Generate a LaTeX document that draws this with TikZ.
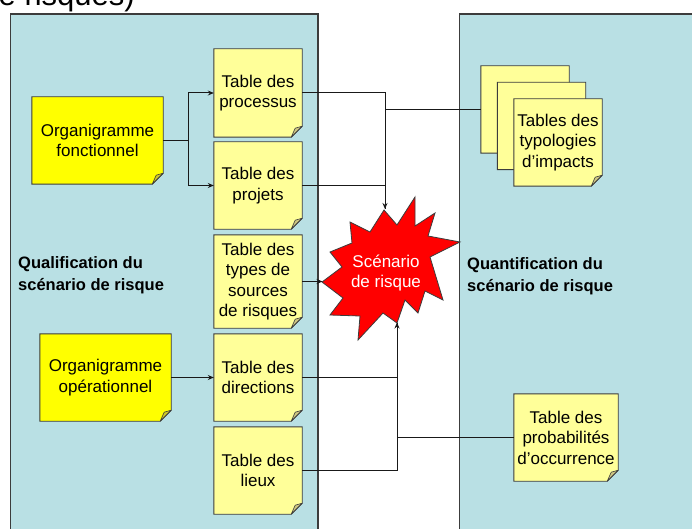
\documentclass[tikz,border=0pt]{standalone}
\usepackage{fontspec}
\setmainfont{Liberation Sans}
\usetikzlibrary{arrows.meta,calc}
\pgfdeclarelayer{panel}
\pgfdeclarelayer{notes}
\pgfsetlayers{panel,notes,main}
\definecolor{panelblue}{RGB}{185,224,228}
\definecolor{notelight}{RGB}{255,255,153}
\definecolor{noteyellow}{RGB}{255,255,0}
\definecolor{flaplight}{RGB}{206,198,130}
\definecolor{flapyellow}{RGB}{206,200,40}
\definecolor{edgegray}{RGB}{60,60,60}
\definecolor{starred}{RGB}{255,0,0}
\newcommand{\notebg}[3]{%
  \begin{pgfonlayer}{notes}
  \filldraw[fill=#2, draw=edgegray, line width=0.9pt, line join=miter]
    (#1.north west) -- (#1.north east) -- ([yshift=11pt]#1.south east)
    -- ([xshift=-11pt]#1.south east) -- (#1.south west) -- cycle;
  \filldraw[fill=#3, draw=edgegray, line width=0.6pt, line join=round]
    ([yshift=11pt]#1.south east) -- ([xshift=-11pt]#1.south east)
    -- ([xshift=-7pt,yshift=9pt]#1.south east) -- cycle;
  \end{pgfonlayer}}
\tikzset{
  notetext/.style={draw=none, inner sep=0pt, align=center, text=black,
    font=\fontsize{17}{20.5}\selectfont, minimum width=88pt, minimum height=87pt},
  boldlabel/.style={inner sep=0pt, align=left, anchor=north west,
    font=\fontsize{16.5}{22}\selectfont\bfseries},
  conn/.style={draw=black!90, line width=1pt},
  arr/.style={conn, -{Stealth[length=6pt,width=5pt]}}
}
\begin{document}
\begin{tikzpicture}[x=1pt,y=-1pt]
\useasboundingbox (0,0) rectangle (692,529);
% panels
\begin{pgfonlayer}{panel}
\begin{scope}
\clip (0,0) rectangle (692,529);
\fill[white] (0,0) rectangle (692,529);
\filldraw[fill=panelblue, draw=edgegray, line width=1.1pt] (10.5,14) rectangle (318,545);
\filldraw[fill=panelblue, draw=edgegray, line width=1.1pt] (459.5,14) rectangle (710,545);
\end{scope}
\end{pgfonlayer}
% cut title
\begin{scope}
\clip (0,0) rectangle (692,529);
\node[anchor=base east, inner sep=0pt, font=\fontsize{31}{36}\selectfont] (title) at (135,6) {de risques)};
\end{scope}
% left notes
\node[notetext, minimum width=131pt] (fonc) at (97.5,140.5) {Organigramme\\fonctionnel};
\notebg{fonc}{noteyellow}{flapyellow}
\node[notetext, minimum width=131pt] (oper) at (105.5,377.5) {Organigramme\\opérationnel};
\notebg{oper}{noteyellow}{flapyellow}
\node[notetext, minimum height=88pt] (proc) at (258,93) {Table des\\processus};
\notebg{proc}{notelight}{flaplight}
\node[notetext] (proj) at (258,185.5) {Table des\\projets};
\notebg{proj}{notelight}{flaplight}
\node[notetext, minimum height=93pt] (types) at (258,281.5) {Table des\\types de\\sources\\de risques};
\notebg{types}{notelight}{flaplight}
\node[notetext] (dir) at (258,377.5) {Table des\\directions};
\notebg{dir}{notelight}{flaplight}
\node[notetext] (lieux) at (258,470.5) {Table des\\lieux};
\notebg{lieux}{notelight}{flaplight}
% right notes
\node[notetext] (typoback) at (525,109.5) {};
\notebg{typoback}{notelight}{flaplight}
\node[notetext] (typomid) at (541.5,126) {};
\notebg{typomid}{notelight}{flaplight}
\node[notetext] (typo) at (558,142.5) {Tables des\\typologies\\d’impacts};
\notebg{typo}{notelight}{flaplight}
\node[notetext, minimum width=104pt] (prob) at (566,437.5) {Table des\\probabilités\\d’occurrence};
\notebg{prob}{notelight}{flaplight}
% labels
\node[boldlabel] (qualif) at (18,256.5) {Qualification du\\scénario de risque};
\node[boldlabel] (quantif) at (467,257.5) {Quantification du\\scénario de risque};
% star
\filldraw[fill=starred, draw=edgegray, line width=0.8pt, line join=miter]
  (415,197) -- (415,226) -- (435,213) -- (428,236) -- (460,242) -- (430,257)
  -- (443,300) -- (425,291) -- (418,313) -- (405,300) -- (397,323) -- (383,313)
  -- (358,340) -- (360,316) -- (330,315) -- (343,298) -- (322,282) -- (342,267)
  -- (330,252) -- (352,243) -- (350,222) -- (370,232) -- (384,210) -- (397,225) -- cycle;
\node[inner sep=0pt, align=center, text=white, font=\fontsize{17}{20}\selectfont] (star) at (386,273) {Scénario\\de risque};
\coordinate (startop) at (385,209);
\coordinate (starleft) at (322.5,281.5);
\coordinate (starbot) at (397,322.5);
\coordinate (j1) at (188.5,140.5);
% connectors
\draw[arr] (fonc.east) -- (fonc.east -| j1) |- (proc.west);
\draw[arr] (fonc.east -| j1) |- (proj.west);
\draw[arr] (oper.east) -- (dir.west);
\draw[arr] (proc.east) -| (startop);
\draw[conn] (proj.east) -| (startop);
\draw[conn] (typoback.west) -| (startop);
\draw[arr] (types.east) -- (starleft);
\draw[arr] (lieux.east) -| (starbot);
\draw[conn] (dir.east) -| (starbot);
\draw[conn] (prob.west) -| (starbot);
\end{tikzpicture}
\end{document}
